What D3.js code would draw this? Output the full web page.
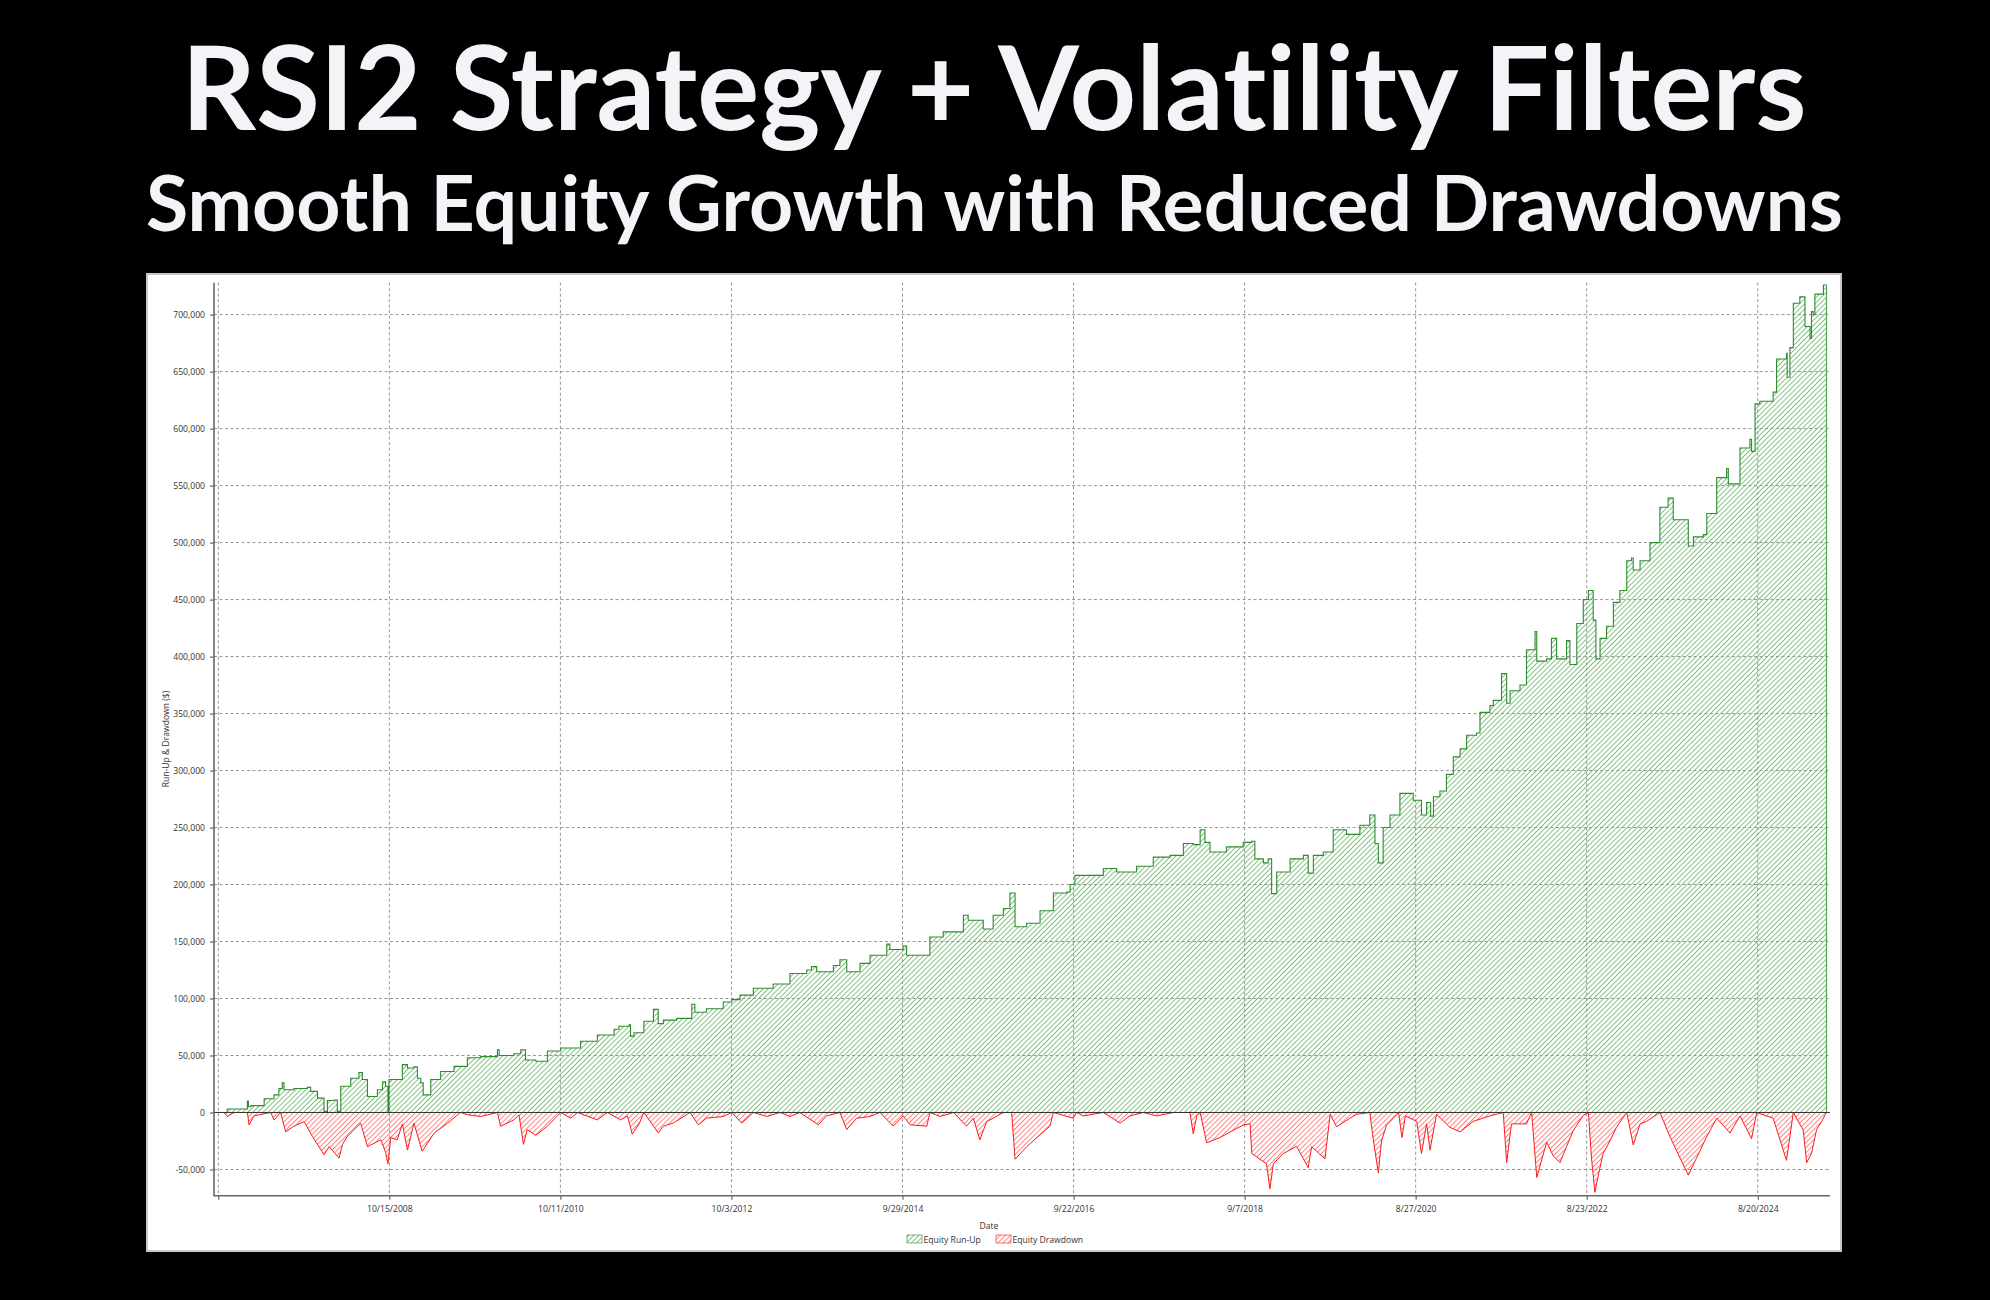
<!DOCTYPE html>
<html><head><meta charset="utf-8">
<script src="https://cdn.jsdelivr.net/npm/d3@7"></script>
<style>html,body{margin:0;padding:0;background:#000;}svg{display:block;}text{font-variant-ligatures:none;}</style>
</head><body>
<script>
// ---- data ----
const titleText = "RSI2 Strategy + Volatility Filters";
const subtitleText = "Smooth Equity Growth with Reduced Drawdowns";
const xTickBars = [0,500,1000,1500,2000,2500,3000,3500,4000,4500];
const xTickLabels = ["","10/15/2008","10/11/2010","10/3/2012","9/29/2014","9/22/2016","9/7/2018","8/27/2020","8/23/2022","8/20/2024"];
const yTicks = [-50000,0,50000,100000,150000,200000,250000,300000,350000,400000,450000,500000,550000,600000,650000,700000];
const yDomain = [-73000, 728000];
const legendLabels = ["Equity Run-Up","Equity Drawdown"];

const equityBars = [0,26,85,88,95,134,163,177,187,192,221,260,270,290,309,319,338,348,358,387,411,421,436,465,480,489,496,499,523,538,553,572,582,592,599,621,650,689,728,767,816,821,864,884,898,928,962,1001,1059,1108,1157,1171,1201,1205,1215,1244,1272,1286,1301,1340,1384,1393,1427,1476,1501,1525,1564,1622,1671,1720,1734,1749,1798,1817,1837,1876,1905,1954,1963,2002,2012,2051,2080,2119,2178,2192,2226,2236,2265,2295,2314,2329,2363,2402,2441,2480,2490,2504,2548,2587,2626,2684,2733,2782,2821,2850,2870,2884,2899,2947,2996,3021,3030,3055,3069,3079,3094,3133,3172,3186,3201,3230,3259,3298,3337,3366,3381,3391,3405,3425,3454,3493,3508,3517,3532,3544,3552,3571,3590,3610,3630,3649,3678,3688,3717,3727,3751,3766,3776,3805,3824,3849,3854,3883,3897,3912,3941,3951,3971,3990,4005,4019,4027,4039,4058,4078,4097,4117,4131,4136,4156,4185,4214,4238,4253,4273,4297,4312,4341,4351,4380,4409,4414,4448,4477,4482,4492,4506,4545,4555,4584,4586,4594,4604,4623,4638,4653,4657,4662,4667,4687,4692,4701];
const equityValues = [0,3000,10000,5000,6000,12000,15500,21000,26000,20000,21000,22000,18500,12600,1000,10500,11000,1000,23000,30000,35000,29000,14000,20000,27000,23000,0,29000,29000,42000,39000,40000,30000,26000,15500,29000,36000,40500,48000,49000,55000,50000,51600,55000,46000,45000,54000,56600,62500,68000,73000,75700,77000,67000,70000,80000,90500,78000,81000,82600,95000,88000,91000,97000,99000,103000,109000,112700,122000,125000,128000,123500,129000,134000,123500,130800,138000,147700,143000,146000,138000,138000,154000,158500,173000,168700,168700,161000,173000,179000,192600,163000,166000,177000,192600,193500,200000,208000,208000,214000,211000,216000,224000,225600,236000,235000,248000,237000,228600,233000,237000,238000,222500,219000,222500,192000,211000,222500,225600,210000,225600,228600,248000,244000,252000,261000,236000,219000,250000,261000,280000,274000,274000,261000,272000,260000,277000,282000,296600,312000,319000,331000,333000,351000,357000,361600,385000,359000,370000,375000,406000,422000,396000,398000,416000,398000,414000,393000,429000,450000,458000,432000,398000,416000,426600,447500,458000,484000,486500,476000,484000,500000,531000,539000,520000,520000,497000,505000,507000,525500,557000,565000,551500,583000,590600,580000,621700,624000,632000,661000,666000,645000,671000,710000,715600,689600,679000,702600,700000,718000,718000,726000,726000];

const ddBars = [0,17,26,46,85,90,104,153,163,182,197,221,251,275,309,324,353,363,377,416,436,475,489,496,504,523,538,553,572,596,631,670,708,728,767,816,825,864,879,892,903,928,962,991,1001,1030,1050,1108,1137,1176,1196,1210,1230,1244,1286,1301,1330,1379,1403,1427,1476,1501,1530,1564,1603,1642,1671,1700,1754,1778,1817,1837,1866,1905,1934,1973,2002,2022,2071,2080,2110,2149,2187,2207,2226,2246,2265,2295,2319,2329,2363,2402,2431,2441,2499,2509,2528,2587,2636,2665,2704,2743,2792,2840,2850,2860,2870,2889,2928,2977,2996,3016,3021,3035,3064,3074,3084,3113,3152,3186,3196,3235,3250,3269,3308,3327,3366,3376,3391,3400,3415,3435,3450,3460,3470,3503,3517,3532,3542,3561,3600,3630,3668,3717,3756,3766,3780,3824,3839,3854,3883,3902,3922,3941,3961,3990,4005,4014,4024,4034,4048,4068,4087,4117,4136,4156,4175,4214,4243,4273,4297,4321,4351,4380,4419,4448,4482,4497,4545,4584,4604,4633,4643,4657,4672,4687,4697,4701];
const ddValues = [0,0,-3500,0,0,-11000,-3000,0,-6500,0,-17000,-12000,-8000,-21000,-37000,-30000,-40000,-28000,-21000,-9400,-30000,-24000,-35000,-45000,-22000,-24000,-10000,-33000,-9400,-34000,-18000,-9400,0,-2000,-3500,0,-12000,-6500,-2000,-28000,-15000,-20000,-12000,-3000,0,-5000,0,-6500,0,-6500,-3000,-19000,-10000,0,-18000,-12000,-9300,0,-10800,-5000,-3500,0,-9300,0,-3500,0,-3500,0,-10800,-3000,0,-15000,-5000,-3500,0,-12000,-3000,-10800,-12000,0,-3500,0,-12000,-5000,-24000,-8000,-5000,0,0,-41000,-30000,-19500,-12000,0,-5000,0,-3000,0,-9400,-3000,0,-3000,0,0,-18800,-3000,0,-26600,-22000,-14000,-11000,-10000,-36000,-39000,-45000,-67000,-45000,-36000,-29700,-48500,-30000,-40700,-1600,-12500,-5000,-1600,0,-23500,-53000,-25000,-11000,-5000,0,-22000,-3000,-7800,-36000,-10000,-33000,-1600,-13000,-17000,-7800,-3000,0,-44000,-10000,-10000,0,-57000,-26000,-38000,-44000,-30000,-15600,-2600,0,-40000,-70000,-55000,-36000,-25000,-13000,0,-28600,-10000,-7800,0,-21000,-40000,-55000,-40000,-21000,-5000,-18000,-3000,-23000,0,-5000,-42000,0,-15600,-44000,-36000,-15000,-7800,-2000,0];

// ---- layout ----
const W = 1990, H = 1300;
const svg = d3.select("body").append("svg").attr("width", W).attr("height", H);
svg.append("rect").attr("width", W).attr("height", H).attr("fill", "#000");

const defs = svg.append("defs");
function hatch(id, color){
  const p = defs.append("pattern").attr("id", id).attr("patternUnits","userSpaceOnUse")
    .attr("width", 3.6).attr("height", 10).attr("patternTransform","rotate(45)");
  p.append("line").attr("x1",0.5).attr("y1",0).attr("x2",0.5).attr("y2",10)
    .attr("stroke", color).attr("stroke-width", 0.9);
}
hatch("hGreen", "#6fb46f");
hatch("hRed", "#ff7070");

// titles
const tFont = "Lato, 'Open Sans', sans-serif";
function fit(sel, target){
  const w = sel.node().getComputedTextLength();
  sel.attr("font-size", parseFloat(sel.attr("font-size")) * target / w);
}
const t1 = svg.append("text").attr("x", 994).attr("y", 130).attr("text-anchor","middle")
  .attr("font-family", tFont).attr("font-weight", 700).attr("font-size", 100)
  .attr("fill", "#f4f4f8").text(titleText);
fit(t1, 1625);
const t2 = svg.append("text").attr("x", 994.5).attr("y", 231).attr("text-anchor","middle")
  .attr("font-family", tFont).attr("font-weight", 700).attr("font-size", 70)
  .attr("fill", "#f4f4f8").text(subtitleText);
fit(t2, 1697);

// panel
svg.append("rect").attr("x",147).attr("y",274).attr("width",1694).attr("height",977)
  .attr("fill","#fff").attr("stroke","#c8c8c8").attr("stroke-width",2);

const x = d3.scaleLinear().domain([xTickBars[0], xTickBars[xTickBars.length-1]]).range([218.3, 1757.75]);
const y = d3.scaleLinear().domain(yDomain).range([1195.7, 282.7]);
const axL = 214, axR = 1830;

const fontSm = "'Open Sans', 'Segoe UI', sans-serif";
const loc = d3.formatLocale({decimal:".", thousands:",", grouping:[3], currency:["$",""], minus:"-"});
const fmt = loc.format(",");

// gridlines
const g = svg.append("g");
g.selectAll(".hg").data(yTicks.filter(v => v !== 0)).join("line")
  .attr("x1", axL).attr("x2", axR).attr("y1", d => y(d)).attr("y2", d => y(d))
  .attr("stroke","#8a8a8a").attr("stroke-width",0.9).attr("stroke-dasharray","3,2.5");
g.selectAll(".vg").data(xTickBars).join("line")
  .attr("x1", d => x(d)).attr("x2", d => x(d)).attr("y1", y(yDomain[1])).attr("y2", y(yDomain[0]))
  .attr("stroke","#8a8a8a").attr("stroke-width",0.9).attr("stroke-dasharray","3,2.5");

// series
const eq = equityBars.map((b,i) => [b, equityValues[i]]);
const dd = ddBars.map((b,i) => [b, ddValues[i]]);
const areaEq = d3.area().curve(d3.curveStepAfter).x(d => x(d[0])).y0(y(0)).y1(d => y(d[1]));
const lineEq = d3.line().curve(d3.curveStepAfter).x(d => x(d[0])).y(d => y(d[1]));
const areaDd = d3.area().x(d => x(d[0])).y0(y(0)).y1(d => y(d[1]));
const lineDd = d3.line().x(d => x(d[0])).y(d => y(d[1]));

svg.append("path").datum(eq).attr("d", areaEq).attr("fill","url(#hGreen)");
svg.append("path").datum(dd).attr("d", areaDd).attr("fill","url(#hRed)");
svg.append("path").datum(dd).attr("d", lineDd).attr("fill","none").attr("stroke","#ff1a1a").attr("stroke-width",1);
svg.append("path").datum(eq).attr("d", lineEq).attr("fill","none").attr("stroke","#2e8b2e").attr("stroke-width",1.1);
// closing edge of the run-up area at the last bar
svg.append("line").attr("x1", x(equityBars[equityBars.length-1])).attr("x2", x(equityBars[equityBars.length-1]))
  .attr("y1", y(equityValues[equityValues.length-1])).attr("y2", y(0))
  .attr("stroke","#4fa84f").attr("stroke-width",1.2);

// zero line
svg.append("line").attr("x1", axL).attr("x2", axR).attr("y1", y(0)).attr("y2", y(0))
  .attr("stroke","#333").attr("stroke-width",1);

// axes
const yAxis = d3.axisLeft(y).tickValues(yTicks).tickFormat(fmt).tickSize(4).tickPadding(5);
const ya = svg.append("g").attr("transform", `translate(${axL},0)`).call(yAxis);
ya.select(".domain").remove();
ya.selectAll(".tick line").attr("stroke","#444");
ya.selectAll("text").attr("font-family", fontSm).attr("font-size", 8.6).attr("fill","#333");
svg.append("line").attr("x1", axL).attr("x2", axL).attr("y1", y(yDomain[1])).attr("y2", y(yDomain[0])+0.5)
  .attr("stroke","#666").attr("stroke-width",1.6);

const xAxis = d3.axisBottom(x).tickValues(xTickBars).tickFormat((d,i) => xTickLabels[i]).tickSize(4).tickPadding(6);
const xa = svg.append("g").attr("transform", `translate(0,${y(yDomain[0])})`).call(xAxis);
xa.select(".domain").remove();
xa.selectAll(".tick line").attr("stroke","#444");
xa.selectAll("text").attr("font-family", fontSm).attr("font-size", 8.6).attr("fill","#333");
svg.append("line").attr("x1", axL).attr("x2", axR).attr("y1", y(yDomain[0])).attr("y2", y(yDomain[0]))
  .attr("stroke","#666").attr("stroke-width",1.6);

// axis titles
svg.append("text").attr("x", 989).attr("y", 1228.5).attr("text-anchor","middle")
  .attr("font-family", fontSm).attr("font-size", 8.6).attr("fill","#333").text("Date");
svg.append("text").attr("transform", "translate(169,739) rotate(-90)").attr("text-anchor","middle")
  .attr("font-family", fontSm).attr("font-size", 8.6).attr("fill","#333").text("Run-Up & Drawdown ($)");

// legend
const leg = [{label: legendLabels[0], fill:"url(#hGreen)", stroke:"#5aaa5a", x:907},
             {label: legendLabels[1], fill:"url(#hRed)", stroke:"#ff4a4a", x:996}];
const lg = svg.selectAll(".leg").data(leg).join("g");
lg.append("rect").attr("x", d => d.x).attr("y", 1235).attr("width", 15).attr("height", 8)
  .attr("fill", d => d.fill).attr("stroke", d => d.stroke).attr("stroke-width", 0.8);
lg.append("text").attr("x", d => d.x + 16.5).attr("y", 1242.5)
  .attr("font-family", fontSm).attr("font-size", 8.6).attr("fill","#333").text(d => d.label);
</script>
</body></html>
